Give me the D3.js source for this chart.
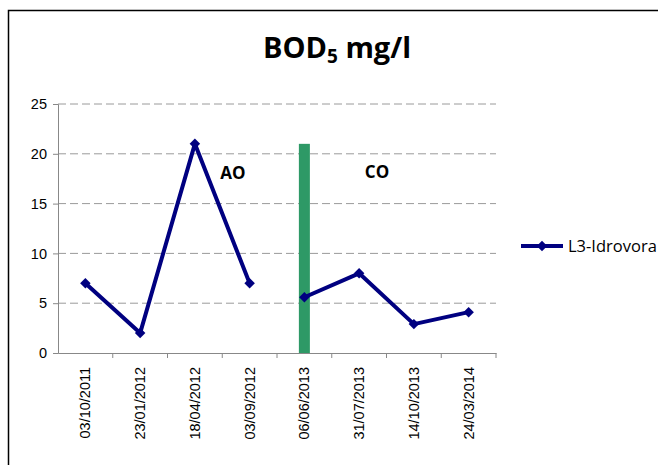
<!DOCTYPE html>
<html>
<head>
<meta charset="utf-8">
<script src="https://cdn.jsdelivr.net/npm/d3@7"></script>
<style>
    body { margin: 0; background: #fff; }
    svg { display: block; font-family: "Open Sans", "Liberation Sans", sans-serif; }
</style>
</head>
<body>
<script>
// chart data
const dates = ["03/10/2011", "23/01/2012", "18/04/2012", "03/09/2012",
    "06/06/2013", "31/07/2013", "14/10/2013", "24/03/2014"];
const bod5 = [7, 2, 21, 7, 5.6, 8, 2.9, 4.1];
const phase = ["AO", "AO", "AO", "AO", "CO", "CO", "CO", "CO"];
const yTicks = [0, 5, 10, 15, 20, 25];
const markerDate = "06/06/2013";
const markerValue = 21;
const seriesName = "L3-Idrovora";

let width = 658;
let height = 465;
let plotLeft = 58, plotRight = 496, plotTop = 104, plotBottom = 353;

var svg = d3.select("body").append("svg")
    .attr("width", width)
    .attr("height", height);

// outer chart frame (runs past the window on the right / bottom)
svg.append("rect")
    .attr("x", 8.5).attr("y", 10.5)
    .attr("width", 700).attr("height", 500)
    .attr("fill", "none")
    .attr("stroke", "#000")
    .attr("stroke-width", 1.5);

var x = d3.scaleBand().domain(dates).range([plotLeft, plotRight]);
var y = d3.scaleLinear().domain([0, 25]).range([plotBottom, plotTop]);

// dashed grid
svg.append("g")
    .selectAll("line")
    .data(yTicks.filter(d => d > 0))
    .enter().append("line")
    .attr("x1", plotLeft).attr("x2", plotRight)
    .attr("y1", d => y(d)).attr("y2", d => y(d))
    .attr("stroke", "#9a9a9a")
    .attr("stroke-dasharray", "8,4");

// y axis
var yAxis = svg.append("g")
    .attr("transform", "translate(" + plotLeft + ",0)")
    .call(d3.axisLeft(y).tickValues(yTicks).tickSize(5).tickPadding(6));
yAxis.select(".domain").attr("stroke", "#888");
yAxis.selectAll(".tick line").attr("stroke", "#888");
yAxis.selectAll("text").attr("font-size", "14.5px").attr("fill", "#000");

// x axis
var xAxis = svg.append("g")
    .attr("transform", "translate(0," + plotBottom + ")")
    .call(d3.axisBottom(x).tickSizeOuter(0).tickSize(0));
xAxis.select(".domain").attr("stroke", "#888");
xAxis.selectAll(".tick line").remove();
xAxis.append("g")
    .selectAll("line")
    .data(dates)
    .enter().append("line")
    .attr("x1", d => x(d) + x.bandwidth()).attr("x2", d => x(d) + x.bandwidth())
    .attr("y1", 0).attr("y2", 5)
    .attr("stroke", "#888");
xAxis.selectAll(".tick text")
    .attr("font-size", "14.5px")
    .attr("fill", "#000")
    .attr("transform", "rotate(-90)")
    .attr("text-anchor", "end")
    .attr("x", -14)
    .attr("y", 0)
    .attr("dy", "0.35em");

// green divider bar
svg.append("rect")
    .attr("x", x(markerDate) + x.bandwidth() / 2 - 5.5)
    .attr("y", y(markerValue))
    .attr("width", 11)
    .attr("height", y(0) - y(markerValue))
    .attr("fill", "#2e9966");

// series, split by phase
let points = dates.map((d, i) => ({ date: d, value: bod5[i], phase: phase[i] }));
let groups = d3.groups(points, d => d.phase);

var line = d3.line()
    .x(d => x(d.date) + x.bandwidth() / 2)
    .y(d => y(d.value));

svg.append("g")
    .selectAll("path")
    .data(groups)
    .enter().append("path")
    .attr("d", d => line(d[1]))
    .attr("fill", "none")
    .attr("stroke", "#000080")
    .attr("stroke-width", 4)
    .attr("stroke-linejoin", "round");

var diamond = d3.symbol().type(d3.symbolDiamond2).size(70);
svg.append("g")
    .selectAll("path")
    .data(points)
    .enter().append("path")
    .attr("d", diamond)
    .attr("transform", d => "translate(" + (x(d.date) + x.bandwidth() / 2) + "," + y(d.value) + ")")
    .attr("fill", "#000080");

// phase labels
svg.append("text").attr("x", 233).attr("y", 179)
    .attr("text-anchor", "middle")
    .attr("font-size", "17px").attr("font-weight", "bold")
    .text("AO");
svg.append("text").attr("x", 377).attr("y", 178)
    .attr("text-anchor", "middle")
    .attr("font-size", "17px").attr("font-weight", "bold")
    .text("CO");

// title
var title = svg.append("text")
    .attr("x", 337).attr("y", 58)
    .attr("text-anchor", "middle")
    .attr("font-size", "29px").attr("font-weight", "bold");
title.append("tspan").text("BOD");
title.append("tspan").attr("font-size", "19px").attr("dy", 5).text("5");
title.append("tspan").attr("dy", -5).text(" mg/l");

// legend
var legend = svg.append("g").attr("transform", "translate(521,246)");
legend.append("line")
    .attr("x1", 0).attr("x2", 42)
    .attr("stroke", "#000080").attr("stroke-width", 4);
legend.append("path")
    .attr("d", diamond)
    .attr("transform", "translate(21,0)")
    .attr("fill", "#000080");
legend.append("text")
    .attr("x", 47).attr("dy", "0.35em")
    .attr("font-size", "16.5px")
    .text(seriesName);
</script>
</body>
</html>
